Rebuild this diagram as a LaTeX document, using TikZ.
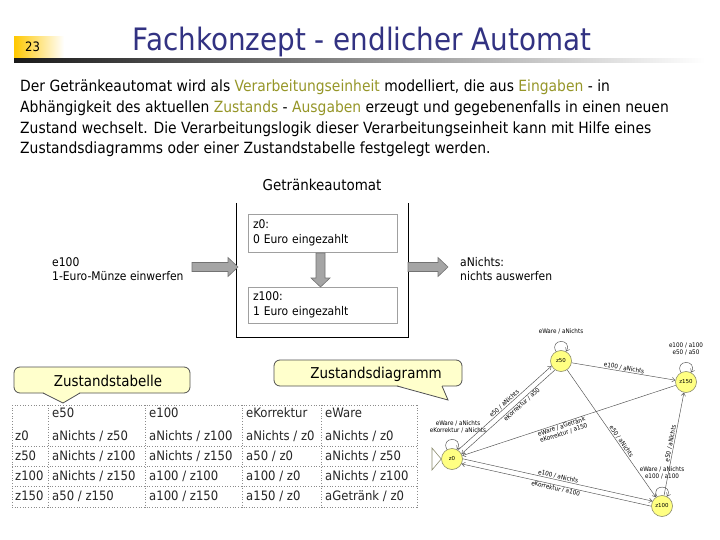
\documentclass[tikz,border=0pt]{standalone}
\usepackage{fontspec}
\setmainfont{DejaVu Sans}
\newfontfamily\tah[FakeStretch=0.9]{DejaVu Sans}
\usetikzlibrary{arrows.meta}
\definecolor{titleblue}{RGB}{50,50,130}
\definecolor{olivetxt}{RGB}{150,150,40}
\definecolor{arrgray}{RGB}{165,165,165}
\definecolor{arredge}{RGB}{115,115,115}
\definecolor{callfill}{RGB}{255,255,204}
\definecolor{callbord}{RGB}{80,80,80}
\definecolor{stateyellow}{RGB}{255,255,130}
\definecolor{statebord}{RGB}{140,140,110}
\definecolor{edgegray}{RGB}{80,80,80}
\definecolor{tabline}{RGB}{140,140,140}
\definecolor{numgold}{RGB}{255,200,0}
\definecolor{boxgray}{RGB}{160,160,160}
\newcommand\olv[1]{\textcolor{olivetxt}{#1}}
\begin{document}
\begin{tikzpicture}[x=1bp,y=-1bp,
  para/.style={anchor=base west, inner sep=0, font=\tah\fontsize{15.5}{20}\selectfont},
  small/.style={inner sep=0, align=left, font=\tah\fontsize{12}{14.5}\selectfont},
  innerbox/.style={draw=boxgray, line width=0.8bp, minimum width=149bp, text width=139bp, align=left, inner sep=5bp, font=\tah\fontsize{12}{14.5}\selectfont},
  blockarr/.style={fill=arrgray, draw=arredge, line width=0.6bp},
  callout/.style={fill=callfill, draw=callbord, line width=0.8bp},
  calltxt/.style={inner sep=0, font=\tah\fontsize{15}{18}\selectfont},
  tabtxt/.style={anchor=base west, inner sep=0, font=\tah\fontsize{13}{14}\selectfont, text=black!85},
  tabrule/.style={draw=tabline, dotted, line width=0.7bp},
  state/.style={circle, draw=statebord, fill=stateyellow, line width=0.6bp, minimum size=21bp, inner sep=0, font=\fontsize{5.5}{6}\selectfont},
  elab/.style={inner sep=0.6bp, align=center, font=\tah\fontsize{6.3}{7}\selectfont},
  tr/.style={draw=edgegray, line width=0.45bp, -{Straight Barb[length=3bp,width=4.5bp]}},
  trr/.style={draw=edgegray, line width=0.45bp, {Straight Barb[length=3bp,width=4.5bp]}-},
]
\useasboundingbox (0,0) rectangle (720,540);
\fill[white] (0,0) rectangle (720,540);

% ---------- header ----------
\shade[left color=numgold, right color=white] (14,37) rectangle (64,59);
\node[anchor=base west, inner sep=0, font=\tah\fontsize{13}{15}\selectfont] (num) at (25,52) {23};
\shade[left color=black!90, right color=white] (14,59) rectangle (705,63);
\node[anchor=base, inner sep=0, text=titleblue, font=\tah\fontsize{31}{36}\selectfont] (title) at (362,51) {Fachkonzept - endlicher Automat};

% ---------- paragraph ----------
\node[para] (p1) at (20,92) {Der Getränkeautomat wird als \olv{Verarbeitungseinheit} modelliert, die aus \olv{Eingaben} - in};
\node[para] (p2) at (20,113) {Abhängigkeit des aktuellen \olv{Zustands} - \olv{Ausgaben} erzeugt und gegebenenfalls in einen neuen};
\node[para] (p3) at (20,134) {Zustand wechselt. Die Verarbeitungslogik dieser Verarbeitungseinheit kann mit Hilfe eines};
\node[para] (p4) at (20,154) {Zustandsdiagramms oder einer Zustandstabelle festgelegt werden.};

% ---------- automaton block figure ----------
\node[inner sep=0, font=\tah\fontsize{15}{18}\selectfont] (gtitle) at (322,185) {Getränkeautomat};
\node[minimum width=171bp, minimum height=134bp, inner sep=0] (automat) at (322.5,270) {};
\draw[black, line width=0.8bp] (automat.north west) -- (automat.south west) -- (automat.south east) -- (automat.north east);
\node[innerbox, minimum height=38bp] (zb0) at (322.5,233) {z0:\\0 Euro eingezahlt};
\node[innerbox, minimum height=36bp] (zb1) at (322.5,305) {z100:\\1 Euro eingezahlt};
\node[small, anchor=west] (inp) at (52,269) {e100\\1-Euro-Münze einwerfen};
\node[small, anchor=west] (outp) at (460,269) {aNichts:\\nichts auswerfen};
% block arrows
\draw[blockarr] (192,262.5) -- (228,262.5) -- (228,257.5) -- (238,267) -- (228,276.5) -- (228,271.5) -- (192,271.5) -- cycle;
\draw[blockarr] (408,262.5) -- (438,262.5) -- (438,257.5) -- (448,267) -- (438,276.5) -- (438,271.5) -- (408,271.5) -- cycle;
\draw[blockarr] (316,253) -- (316,278) -- (311,278) -- (320.5,287) -- (330,278) -- (325,278) -- (325,253) -- cycle;

% ---------- callouts ----------
\draw[callout, rounded corners=6bp] (14,367) rectangle (190,393);
\fill[callfill] (43,392.2) -- (63,403) -- (80,392.2) -- cycle;
\draw[callbord, line width=0.8bp, line join=miter] (43,393) -- (63,403) -- (80,393);
\node[calltxt] (ctab) at (108,381) {Zustandstabelle};

\draw[callout, rounded corners=6bp] (274,360) rectangle (462,386);
\fill[callfill] (397,385.2) -- (448,400) -- (442,385.2) -- cycle;
\draw[callbord, line width=0.8bp, line join=miter] (397,386) -- (448,400) -- (442,386);
\node[calltxt] (cdia) at (376,374) {Zustandsdiagramm};

% ---------- state table ----------
\foreach \x in {12,48,145,242,321,417} \draw[tabrule] (\x,405) -- (\x,508);
\foreach \y in {405,446,466,486,507} \draw[tabrule] (12,\y) -- (417,\y);
\node[tabtxt] (h1) at (52,417.5) {e50};
\node[tabtxt] (h2) at (149,417.5) {e100};
\node[tabtxt] (h3) at (246,417.5) {eKorrektur};
\node[tabtxt] (h4) at (325,417.5) {eWare};
\node[tabtxt] (r0) at (15,440.5) {z0};
\node[tabtxt] (r0a) at (52,440.5) {aNichts / z50};
\node[tabtxt] (r0b) at (149,440.5) {aNichts / z100};
\node[tabtxt] (r0c) at (246,440.5) {aNichts / z0};
\node[tabtxt] (r0d) at (325,440.5) {aNichts / z0};
\node[tabtxt] (r1) at (15,460.5) {z50};
\node[tabtxt] (r1a) at (52,460.5) {aNichts / z100};
\node[tabtxt] (r1b) at (149,460.5) {aNichts / z150};
\node[tabtxt] (r1c) at (246,460.5) {a50 / z0};
\node[tabtxt] (r1d) at (325,460.5) {aNichts / z50};
\node[tabtxt] (r2) at (15,480.5) {z100};
\node[tabtxt] (r2a) at (52,480.5) {aNichts / z150};
\node[tabtxt] (r2b) at (149,480.5) {a100 / z100};
\node[tabtxt] (r2c) at (246,480.5) {a100 / z0};
\node[tabtxt] (r2d) at (325,480.5) {aNichts / z100};
\node[tabtxt] (r3) at (15,500.5) {z150};
\node[tabtxt] (r3a) at (52,500.5) {a50 / z150};
\node[tabtxt] (r3b) at (149,500.5) {a100 / z150};
\node[tabtxt] (r3c) at (246,500.5) {a150 / z0};
\node[tabtxt] (r3d) at (325,500.5) {aGetränk / z0};

% ---------- state diagram ----------
\node[state] (z0) at (452,459) {z0};
\node[state] (z50) at (561,361) {z50};
\node[state] (z150) at (686,382) {z150};
\node[state] (z100) at (662,506) {z100};
\coordinate (initA) at (432,448);
\coordinate (initB) at (432,470);
\draw[draw=statebord, fill=white, line width=0.6bp] (initA) -- (z0.west) -- (initB) -- cycle;

% self loops (polar angles are mirrored because y points down)
\draw[tr] (z0.118) .. controls +(-118:15) and +(-62:15) .. (z0.62);
\node[elab] (lz0) at (458,427) {eWare / aNichts\\eKorrektur / aNichts};
\draw[tr] (z50.118) .. controls +(-118:15) and +(-62:15) .. (z50.62);
\node[elab] (lz50) at (561,331) {eWare / aNichts};
\draw[tr] (z150.118) .. controls +(-118:15) and +(-62:15) .. (z150.62);
\node[elab] (lz150) at (686,349) {e100 / a100\\e50 / a50};
\draw[tr] (z100.118) .. controls +(-118:14) and +(-62:14) .. (z100.62);
\node[elab] (lz100) at (662,473) {eWare / aNichts\\e100 / a100};

% transitions
\draw[tr] (z0.56) -- node[elab, sloped, above, pos=0.52] {e50 / aNichts} (z50.208);
\draw[trr] (z0.28) -- node[elab, sloped, below, pos=0.62] {eKorrektur / a50} (z50.236);
\draw[tr] (z0.1) -- node[elab, sloped, above, pos=0.5] {e100 / aNichts} (z100.153);
\draw[trr] (z0.-27) -- node[elab, sloped, below, pos=0.5] {eKorrektur / a100} (z100.181);
\draw[trr] (z0.18) -- node[elab, sloped, below, pos=0.46] {eWare / aGetränk\\eKorrektur / a150} (z150.198);
\draw[tr] (z50) -- node[elab, sloped, above, pos=0.5] {e100 / aNichts} (z150);
\draw[tr] (z50) -- node[elab, sloped, above, pos=0.58] {e50 / aNichts} (z100);
\draw[tr] (z100) -- node[elab, sloped, above, pos=0.5] {e50 / aNichts} (z150);
\end{tikzpicture}
\end{document}
